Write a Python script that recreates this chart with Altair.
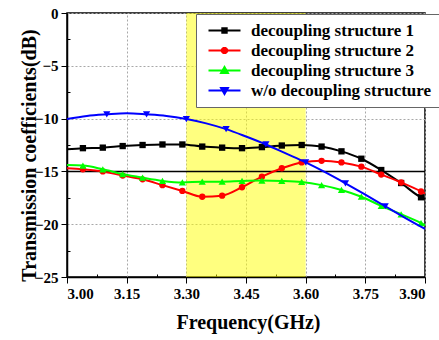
import altair as alt
import pandas as pd

# ---- data -------------------------------------------------------------
series_names = [
    "decoupling structure 1",
    "decoupling structure 2",
    "decoupling structure 3",
    "w/o decoupling structure",
]
series_colors = ["#000000", "#ff0000", "#00ff00", "#0000ff"]
series_shapes = ["square", "circle", "triangle-up", "triangle-down"]

# sweep used by the three decoupling structures (GHz)
freq_ds = [3.00, 3.04, 3.09, 3.14, 3.19, 3.24, 3.29, 3.34, 3.39, 3.44,
           3.49, 3.54, 3.59, 3.64, 3.69, 3.74, 3.79, 3.84, 3.89, 3.90]
marker_ds = [False] + [True] * 18 + [False]

s21_ds1 = [-12.9, -12.8, -12.75, -12.6, -12.5, -12.45, -12.45, -12.65, -12.75, -12.8,
           -12.7, -12.55, -12.5, -12.65, -13.1, -13.8, -14.87, -16.1, -17.45, -17.6]
s21_ds2 = [-14.7, -14.8, -15.0, -15.4, -15.75, -16.3, -16.85, -17.4, -17.3, -16.5,
           -15.5, -14.7, -14.15, -14.0, -14.15, -14.55, -15.3, -16.05, -16.9, -17.1]
s21_ds3 = [-14.4, -14.45, -14.8, -15.25, -15.6, -15.9, -16.05, -15.97, -15.97, -15.9,
           -15.87, -15.9, -16.0, -16.3, -16.76, -17.4, -18.27, -19.06, -19.9, -20.1]

# sweep of the reference antenna without decoupling (GHz)
freq_wo = [3.00, 3.05, 3.10, 3.15, 3.20, 3.25, 3.30, 3.35, 3.40, 3.45,
           3.50, 3.55, 3.60, 3.65, 3.70, 3.75, 3.80, 3.85, 3.90]
marker_wo = [False, False, True, False, True, False, True, False, True, False,
             True, False, True, False, True, False, True, False, False]
s21_wo = [-10.04, -9.75, -9.6, -9.5, -9.6, -9.75, -10.04, -10.45, -11.0, -11.7,
          -12.45, -13.3, -14.15, -15.1, -16.13, -17.2, -18.3, -19.4, -20.45]

# operating band and reference level
band_start = [3.30]
band_end = [3.60]
ref_level = [-15]

# axis ticks
x_ticks = [3.00, 3.15, 3.30, 3.45, 3.60, 3.75, 3.90]
x_minor = [3.075, 3.225, 3.375, 3.525, 3.675, 3.825]
y_ticks = [0, -5, -10, -15, -20, -25]
y_minor = [-2.5, -7.5, -12.5, -17.5, -22.5]

# legend glyphs: a short line with the series marker in its middle
legend_glyphs = [
    "M-1,0H7M2.45,-0.55H3.55V0.55H2.45Z",
    "M-1,0H7M3.65,-0.27L3.65,0.27L3.27,0.65L2.73,0.65L2.35,0.27L2.35,-0.27L2.73,-0.65L3.27,-0.65Z",
    "M-1,0H7M3,-0.85L3.85,0.6L2.15,0.6Z",
    "M-1,0H7M3,0.85L3.85,-0.6L2.15,-0.6Z",
]

# ---- table --------------------------------------------------------------
rows = []
for name, ys in zip(series_names[:3], [s21_ds1, s21_ds2, s21_ds3]):
    for f, v, m in zip(freq_ds, ys, marker_ds):
        rows.append({"series": name, "freq": f, "value": v, "marker": m})
for f, v, m in zip(freq_wo, s21_wo, marker_wo):
    rows.append({"series": series_names[3], "freq": f, "value": v, "marker": m})
df = pd.DataFrame(rows)
band_df = pd.DataFrame({"start": band_start, "end": band_end})
ref_df = pd.DataFrame({"level": ref_level})

FONT = "Liberation Serif"
W, H = 358, 264

label_style = dict(labelFont=FONT, labelFontSize=15, labelFontWeight="bold",
                   labelColor="black")
title_style = dict(titleFont=FONT, titleFontSize=20, titleFontWeight="bold",
                   titleColor="black")

x_scale = alt.Scale(domain=[3.0, 3.9], nice=False, zero=False)
y_scale = alt.Scale(domain=[-25, 0], nice=False)

x_axis = alt.Axis(
    values=x_ticks, format=".2f", title="Frequency(GHz)",
    grid=True, gridColor="#a8a8a8", gridDash=[2, 2], gridWidth=1,
    tickSize=6, labelPadding=3, titleY=51, titleX=181,
    titleBaseline="alphabetic", **label_style, **title_style,
)
y_axis = alt.Axis(
    values=y_ticks, format="d", title="Transmission coefficients(dB)",
    grid=True, gridColor="#a8a8a8", gridDash=[2, 2], gridWidth=1,
    tickSize=6, labelPadding=3, titleX=-32, titleY=142,
    titleBaseline="alphabetic", titleAngle=270, **label_style, **title_style,
)
x_minor_axis = alt.Axis(
    orient="top", offset=-H, values=x_minor, tickSize=3, labels=False,
    domain=False, grid=False, title=None,
)
y_minor_axis = alt.Axis(
    orient="right", offset=-W, values=y_minor, tickSize=3, labels=False,
    domain=False, grid=False, title=None,
)

legend_colors = alt.Scale(domain=series_names, range=series_colors)

band = alt.Chart(band_df).mark_rect(color="#ffff00", opacity=0.5).encode(
    x=alt.X("start:Q", scale=x_scale, axis=x_axis),
    x2="end:Q",
)

ref_line = alt.Chart(ref_df).mark_rule(color="black", strokeWidth=1.5).encode(
    y=alt.Y("level:Q", scale=y_scale, axis=y_axis),
)

# one line + marker layer per series, each with its own fixed colour/shape
series_layers = []
marker_sizes = [40, 40, 52, 52]
for name, col, shp, sz in zip(series_names, series_colors, series_shapes, marker_sizes):
    base = alt.Chart(df).transform_filter(alt.datum.series == name)
    series_layers.append(
        base.mark_line(color=col, strokeWidth=2, interpolate="monotone").encode(
            x=alt.X("freq:Q", scale=x_scale, axis=None),
            y=alt.Y("value:Q", scale=y_scale, axis=None),
        )
    )
    series_layers.append(
        base.transform_filter(alt.datum.marker)
        .mark_point(shape=shp, filled=True, color=col, size=sz, opacity=1)
        .encode(
            x=alt.X("freq:Q", scale=x_scale, axis=None),
            y=alt.Y("value:Q", scale=y_scale, axis=None),
        )
    )

legend_def = alt.Legend(
    orient="none", legendX=129, legendY=1, title=None,
    fillColor="white", strokeColor="#666666", padding=8,
    labelFont=FONT, labelFontSize=17, labelFontWeight="bold", labelColor="black",
    labelLimit=400, labelOffset=30, rowPadding=2,
    symbolSize=64, symbolStrokeWidth=2,
)
# legend carrier: its glyphs sit left of the frequency range and are clipped away
legend_layer = (
    alt.Chart(df)
    .transform_filter(alt.datum.marker)
    .transform_calculate(hidden_freq="datum.freq - 10")
    .mark_point(filled=True, opacity=1, size=64, strokeWidth=2, clip=True)
    .encode(
        x=alt.X("hidden_freq:Q", scale=x_scale, axis=None),
        y=alt.Y("value:Q", scale=y_scale, axis=None),
        fill=alt.Fill("series:N", scale=legend_colors, legend=legend_def),
        stroke=alt.Stroke("series:N", scale=legend_colors, legend=legend_def),
        shape=alt.Shape("series:N",
                        scale=alt.Scale(domain=series_names, range=legend_glyphs),
                        legend=legend_def),
    )
)

minor_ticks = (
    alt.Chart(df)
    .transform_filter("false")
    .mark_point()
    .encode(
        x=alt.X("freq:Q", scale=x_scale, axis=x_minor_axis),
        y=alt.Y("value:Q", scale=y_scale, axis=y_minor_axis),
    )
)

chart = (
    alt.layer(band, ref_line, *series_layers, legend_layer, minor_ticks)
    .resolve_axis(x="independent", y="independent")
    .properties(
        width=W, height=H,
        autosize=alt.AutoSizeParams(type="none"),
        padding={"left": 67, "top": 13, "right": 14, "bottom": 63},
        background="white",
    )
    .configure_view(stroke="black", strokeWidth=1.5)
    .configure_axis(
        domainColor="black", domainWidth=1.5, tickColor="black", tickWidth=1,
        **label_style, **title_style,
    )
)

chart.save("out.html", embed_options={"renderer": "svg", "actions": False})
